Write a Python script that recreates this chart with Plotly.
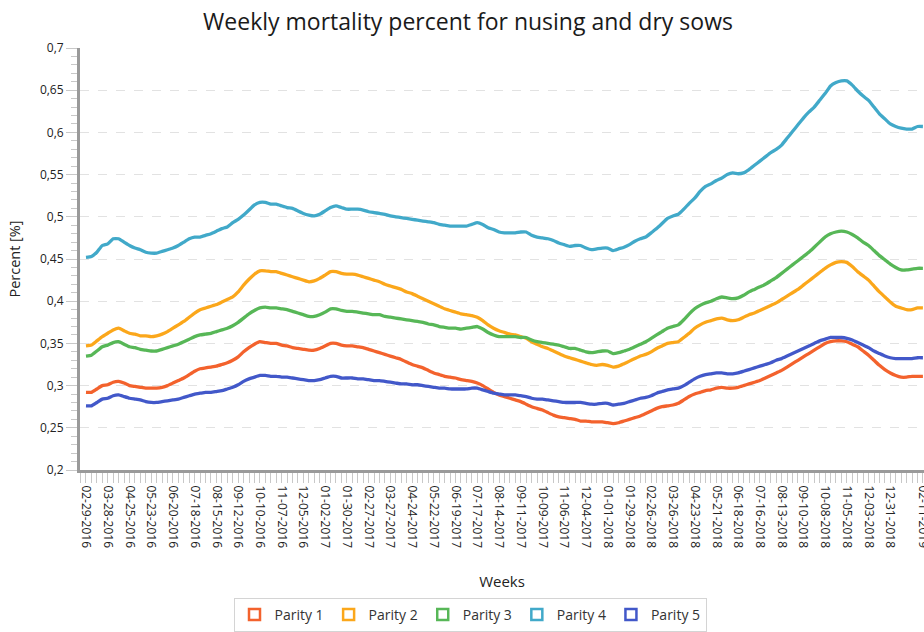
import pandas as pd
import plotly.graph_objects as go

start_week = "2016-02-29"

parity1 = [0.292,0.292,0.296,0.300,0.301,0.304,0.305,0.303,0.300,0.299,0.298,0.297,0.297,0.297,0.298,0.300,0.303,0.306,0.309,0.313,
           0.317,0.320,0.321,0.322,0.323,0.325,0.327,0.330,0.334,0.340,0.345,0.349,0.352,0.351,0.350,0.350,0.348,0.347,0.345,0.344,
           0.343,0.342,0.342,0.344,0.347,0.350,0.350,0.348,0.347,0.347,0.346,0.345,0.343,0.341,0.339,0.337,0.335,0.333,0.331,0.328,
           0.325,0.323,0.321,0.318,0.315,0.313,0.311,0.310,0.309,0.307,0.306,0.305,0.303,0.300,0.296,0.292,0.289,0.287,0.285,0.283,
           0.281,0.278,0.275,0.273,0.271,0.268,0.265,0.263,0.262,0.261,0.260,0.258,0.258,0.257,0.257,0.257,0.256,0.255,0.256,0.258,
           0.260,0.262,0.264,0.267,0.270,0.273,0.275,0.276,0.277,0.279,0.283,0.287,0.290,0.292,0.294,0.295,0.297,0.298,0.297,0.297,
           0.298,0.300,0.302,0.304,0.306,0.309,0.312,0.315,0.318,0.322,0.326,0.330,0.334,0.338,0.342,0.346,0.350,0.352,0.353,0.353,
           0.352,0.349,0.346,0.341,0.336,0.330,0.324,0.319,0.315,0.312,0.310,0.310,0.311,0.311,0.311]

parity2 = [0.347,0.348,0.353,0.358,0.362,0.366,0.368,0.365,0.362,0.361,0.359,0.359,0.358,0.359,0.361,0.364,0.368,0.372,0.376,0.381,
           0.386,0.390,0.392,0.394,0.396,0.399,0.402,0.405,0.411,0.419,0.426,0.432,0.436,0.436,0.435,0.435,0.433,0.431,0.429,0.427,
           0.425,0.423,0.424,0.427,0.431,0.435,0.435,0.433,0.432,0.432,0.431,0.429,0.427,0.425,0.423,0.420,0.418,0.416,0.414,0.411,
           0.409,0.406,0.403,0.400,0.397,0.394,0.391,0.389,0.387,0.385,0.384,0.383,0.381,0.377,0.372,0.368,0.365,0.363,0.361,0.360,
           0.358,0.356,0.352,0.349,0.346,0.344,0.341,0.338,0.335,0.333,0.331,0.329,0.327,0.325,0.324,0.325,0.324,0.322,0.323,0.326,
           0.329,0.332,0.335,0.337,0.340,0.344,0.347,0.350,0.351,0.352,0.357,0.362,0.368,0.372,0.375,0.377,0.379,0.380,0.378,0.377,
           0.378,0.381,0.384,0.386,0.389,0.392,0.395,0.398,0.402,0.406,0.410,0.414,0.419,0.424,0.429,0.434,0.439,0.443,0.446,0.447,
           0.446,0.441,0.435,0.430,0.425,0.418,0.411,0.405,0.399,0.394,0.392,0.390,0.390,0.392,0.392]

parity3 = [0.335,0.336,0.341,0.346,0.348,0.351,0.352,0.349,0.346,0.345,0.343,0.342,0.341,0.341,0.343,0.345,0.347,0.349,0.352,0.355,
           0.358,0.360,0.361,0.362,0.364,0.366,0.368,0.371,0.375,0.380,0.385,0.389,0.392,0.393,0.392,0.392,0.391,0.390,0.388,0.386,
           0.384,0.382,0.382,0.384,0.387,0.391,0.391,0.389,0.388,0.388,0.387,0.386,0.385,0.384,0.384,0.382,0.381,0.380,0.379,0.378,
           0.377,0.376,0.375,0.373,0.372,0.370,0.369,0.368,0.368,0.367,0.368,0.369,0.370,0.367,0.363,0.360,0.358,0.358,0.358,0.358,
           0.357,0.357,0.354,0.352,0.351,0.350,0.349,0.348,0.346,0.344,0.344,0.342,0.340,0.339,0.340,0.341,0.341,0.338,0.339,0.341,
           0.343,0.346,0.349,0.352,0.356,0.360,0.364,0.368,0.370,0.372,0.378,0.385,0.391,0.395,0.398,0.400,0.403,0.405,0.404,0.403,
           0.404,0.407,0.411,0.414,0.417,0.420,0.424,0.428,0.433,0.438,0.443,0.448,0.453,0.458,0.464,0.470,0.476,0.480,0.482,0.483,
           0.482,0.479,0.475,0.470,0.466,0.460,0.454,0.449,0.444,0.440,0.437,0.437,0.438,0.439,0.439]

parity4 = [0.452,0.453,0.458,0.466,0.468,0.474,0.474,0.470,0.466,0.463,0.461,0.458,0.457,0.457,0.459,0.461,0.463,0.466,0.470,0.474,
           0.476,0.476,0.478,0.480,0.483,0.486,0.488,0.493,0.497,0.502,0.508,0.514,0.517,0.517,0.515,0.515,0.513,0.511,0.510,0.507,
           0.504,0.502,0.501,0.503,0.507,0.511,0.513,0.511,0.509,0.509,0.509,0.508,0.506,0.505,0.504,0.503,0.501,0.500,0.499,0.498,
           0.497,0.496,0.495,0.494,0.493,0.491,0.490,0.489,0.489,0.489,0.489,0.491,0.493,0.491,0.487,0.485,0.482,0.481,0.481,0.481,
           0.482,0.482,0.478,0.476,0.475,0.474,0.472,0.469,0.467,0.465,0.466,0.466,0.463,0.461,0.462,0.463,0.463,0.460,0.462,0.464,
           0.467,0.471,0.474,0.476,0.481,0.486,0.492,0.498,0.501,0.503,0.509,0.516,0.522,0.530,0.536,0.539,0.543,0.546,0.550,0.552,
           0.551,0.552,0.556,0.561,0.566,0.571,0.576,0.580,0.585,0.593,0.601,0.609,0.617,0.624,0.630,0.638,0.646,0.655,0.659,0.661,
           0.661,0.656,0.649,0.643,0.638,0.630,0.622,0.616,0.610,0.607,0.605,0.604,0.604,0.607,0.607]

parity5 = [0.276,0.276,0.280,0.284,0.285,0.288,0.289,0.287,0.285,0.284,0.283,0.281,0.280,0.280,0.281,0.282,0.283,0.284,0.286,0.288,
           0.290,0.291,0.292,0.292,0.293,0.294,0.296,0.298,0.301,0.305,0.308,0.310,0.312,0.312,0.311,0.311,0.310,0.310,0.309,0.308,
           0.307,0.306,0.306,0.307,0.309,0.311,0.311,0.309,0.309,0.309,0.308,0.308,0.307,0.306,0.306,0.305,0.304,0.303,0.302,0.302,
           0.301,0.301,0.300,0.299,0.298,0.297,0.297,0.296,0.296,0.296,0.296,0.297,0.297,0.295,0.293,0.291,0.290,0.289,0.289,0.289,
           0.288,0.287,0.285,0.284,0.284,0.283,0.282,0.281,0.280,0.280,0.280,0.280,0.279,0.278,0.278,0.279,0.279,0.277,0.278,0.279,
           0.281,0.283,0.285,0.286,0.288,0.291,0.293,0.295,0.296,0.297,0.300,0.304,0.308,0.311,0.313,0.314,0.315,0.315,0.314,0.314,
           0.315,0.317,0.319,0.321,0.323,0.325,0.327,0.330,0.332,0.335,0.338,0.341,0.344,0.347,0.350,0.353,0.355,0.357,0.357,0.357,
           0.356,0.354,0.351,0.348,0.345,0.341,0.338,0.335,0.333,0.332,0.332,0.332,0.332,0.333,0.333]

series_names = ["Parity 1", "Parity 2", "Parity 3", "Parity 4", "Parity 5"]
series_colors = ["#f3622d", "#fba71b", "#57b757", "#41a9c9", "#4258c9"]

tick_labels = ["02-29-2016","03-28-2016","04-25-2016","05-23-2016","06-20-2016","07-18-2016","08-15-2016","09-12-2016",
               "10-10-2016","11-07-2016","12-05-2016","01-02-2017","01-30-2017","02-27-2017","03-27-2017","04-24-2017",
               "05-22-2017","06-19-2017","07-17-2017","08-14-2017","09-11-2017","10-09-2017","11-06-2017","12-04-2017",
               "01-01-2018","01-29-2018","02-26-2018","03-26-2018","04-23-2018","05-21-2018","06-18-2018","07-16-2018",
               "08-13-2018","09-10-2018","10-08-2018","11-05-2018","12-03-2018","12-31-2018","02-11-2019"]

y_ticks = [0.2, 0.25, 0.3, 0.35, 0.4, 0.45, 0.5, 0.55, 0.6, 0.65, 0.7]
y_tick_labels = ["0,2", "0,25", "0,3", "0,35", "0,4", "0,45", "0,5", "0,55", "0,6", "0,65", "0,7"]

weeks = pd.date_range(start_week, periods=len(parity1), freq="7D")
tick_dates = [pd.to_datetime(t, format="%m-%d-%Y") for t in tick_labels]

FONT = "Open Sans, Segoe UI, sans-serif"
fig = go.Figure()
for name, vals, col in zip(series_names, [parity1, parity2, parity3, parity4, parity5], series_colors):
    fig.add_trace(go.Scatter(x=weeks, y=vals, mode="lines", name=name, showlegend=False,
                             line=dict(color=col, width=3.3, shape="spline", smoothing=0.4)))
for name, col in zip(series_names, series_colors):
    fig.add_trace(go.Scatter(x=[None], y=[None], mode="markers", name=name,
                             marker=dict(symbol="square-open", size=11, color=col, line=dict(width=2.5, color=col))))

x0 = weeks[0] - pd.Timedelta(days=7.7)
x1 = weeks[0] + pd.Timedelta(days=154.2 * 7)

fig.update_layout(
    width=924, height=632,
    margin=dict(l=80, r=0, t=48, b=162),
    paper_bgcolor="white", plot_bgcolor="white",
    title=dict(text="Weekly mortality percent for nusing and dry sows", x=468 / 924, xref="container",
               xanchor="center", y=1 - 22 / 632, yref="container", yanchor="middle",
               font=dict(family=FONT, size=23, color="#1a1a1a")),
    font=dict(family=FONT, color="#333"),
    legend=dict(orientation="h", xref="container", yref="container", x=470 / 924, xanchor="center",
                y=1 - 598 / 632, yanchor="top", bordercolor="#d4d4d4", borderwidth=1, bgcolor="white",
                font=dict(family=FONT, size=14, color="#333"), itemwidth=30, tracegroupgap=0),
    showlegend=True,
)
fig.update_xaxes(
    type="date", range=[x0, x1], tickmode="array", tickvals=tick_dates, ticktext=tick_labels,
    tickangle=90, tickfont=dict(family=FONT, size=12, color="#222"), automargin=False,
    ticklabeloverflow="allow",
    ticks="outside", ticklen=10, tickcolor="#c8c8c8", tickwidth=1,
    minor=dict(dtick=7 * 24 * 3600 * 1000, tick0=start_week, ticks="outside", ticklen=10, tickcolor="#c8c8c8", showgrid=False),
    showgrid=False, zeroline=False, showline=True, linecolor="#9a9a9a", linewidth=3,
    title=dict(text="Weeks", font=dict(family=FONT, size=15, color="#222"), standoff=30),
)
fig.update_yaxes(
    range=[0.2, 0.7], tickmode="array", tickvals=y_ticks, ticktext=y_tick_labels,
    tickfont=dict(family=FONT, size=12, color="#222"), automargin=False,
    ticks="outside", ticklen=11, tickcolor="#c8c8c8", tickwidth=1,
    minor=dict(dtick=0.01, tick0=0.2, ticks="outside", ticklen=6, tickcolor="#c8c8c8", showgrid=False),
    showgrid=True, gridcolor="#e2e2e2", griddash="dash", gridwidth=1,
    zeroline=False, showline=True, linecolor="#9a9a9a", linewidth=3,
    title=dict(text="Percent [%]", font=dict(family=FONT, size=14.5, color="#222"), standoff=16),
)

fig.write_html("out.html", config={"displayModeBar": False},
               post_script="document.body.style.margin='0';document.body.style.overflow='hidden';")
